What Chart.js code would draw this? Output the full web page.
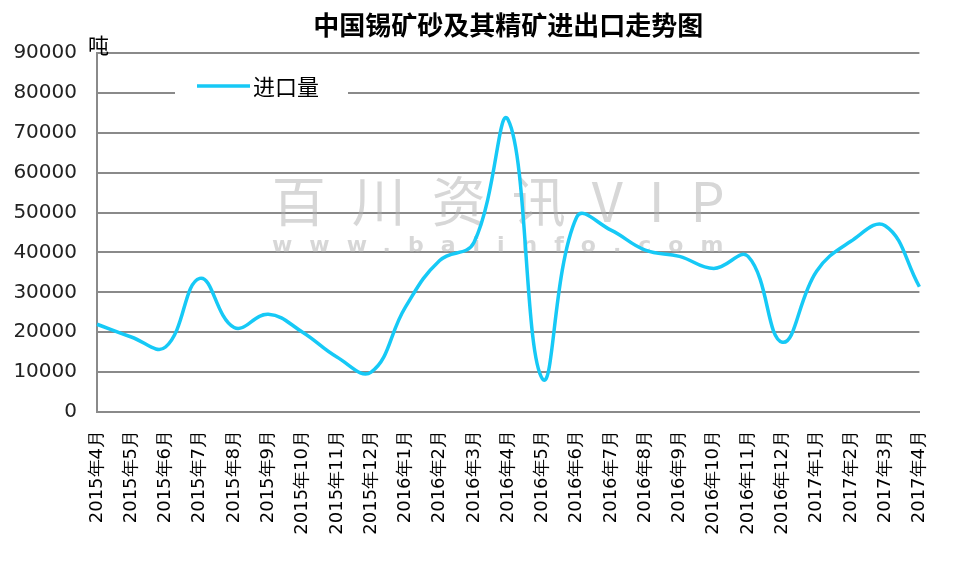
<!DOCTYPE html>
<html>
<head>
<meta charset="utf-8">
<script src="https://cdn.jsdelivr.net/npm/chart.js@4/dist/chart.umd.min.js"></script>
<style>
  html, body { margin: 0; padding: 0; background: #fff; }
  #wrap { width: 959px; height: 562px; }
</style>
</head>
<body>
<div id="wrap"><canvas id="chart" width="959" height="562"></canvas></div>
<script>
const months = [
  '2015年4月', '2015年5月', '2015年6月', '2015年7月', '2015年8月', '2015年9月',
  '2015年10月', '2015年11月', '2015年12月', '2016年1月', '2016年2月', '2016年3月',
  '2016年4月', '2016年5月', '2016年6月', '2016年7月', '2016年8月', '2016年9月',
  '2016年10月', '2016年11月', '2016年12月', '2017年1月', '2017年2月', '2017年3月',
  '2017年4月'
];
const importVolume = [
  22000, 18800, 16300, 33500, 21200, 24500,
  20000, 13800, 10000, 26300, 38000, 42500,
  73200, 8300, 48900, 45600, 40600, 39000,
  36000, 39000, 17500, 35300, 42800, 46700,
  31400
];
const seriesName = '进口量';
const chartTitle = '中国锡矿砂及其精矿进出口走势图';
const unitLabel = '吨';
const yMin = 0, yMax = 90000, yStep = 10000;

const cjk = '"Noto Sans CJK SC", "DejaVu Sans", sans-serif';

// 水印、单位、图例（图例画在绘图区内）
const extras = {
  id: 'extras',
  beforeDatasetsDraw(chart) {
    const { ctx, chartArea } = chart;
    const cx = (chartArea.left + chartArea.right) / 2 - 10;
    ctx.save();
    ctx.fillStyle = 'rgba(175,175,175,0.5)';
    ctx.textAlign = 'center';
    ctx.textBaseline = 'middle';
    ctx.font = '54px ' + cjk;
    if ('letterSpacing' in ctx) ctx.letterSpacing = '26px';
    ctx.fillText('百川资讯VIP', cx + 13, chartArea.top + 148);
    ctx.font = 'bold 22px "DejaVu Sans", sans-serif';
    if ('letterSpacing' in ctx) ctx.letterSpacing = '17px';
    ctx.fillText('www.baiinfo.com', cx + 8, chartArea.top + 193);
    ctx.restore();
  },
  afterDraw(chart) {
    const { ctx, chartArea } = chart;
    const ds = chart.data.datasets[0];
    ctx.save();
    // 单位
    ctx.fillStyle = '#000';
    ctx.font = '21px ' + cjk;
    ctx.textAlign = 'left';
    ctx.textBaseline = 'bottom';
    ctx.fillText(unitLabel, chartArea.left - 9, chartArea.top + 3);
    // 图例
    const lx = chartArea.left + 78;
    const ly = chartArea.top + 33;
    ctx.fillStyle = '#fff';
    ctx.fillRect(lx, ly - 16, 173, 30);
    ctx.strokeStyle = ds.borderColor;
    ctx.lineWidth = 3.5;
    ctx.beginPath();
    ctx.moveTo(lx + 22, ly);
    ctx.lineTo(lx + 75, ly);
    ctx.stroke();
    ctx.fillStyle = '#000';
    ctx.font = '22px ' + cjk;
    ctx.textBaseline = 'middle';
    ctx.fillText(ds.label, lx + 78, ly + 1);
    ctx.restore();
  }
};

new Chart(document.getElementById('chart'), {
  type: 'line',
  data: {
    labels: months,
    datasets: [{
      label: seriesName,
      data: importVolume,
      borderColor: '#16c9f6',
      borderWidth: 3.5,
      pointRadius: 0,
      tension: 0.42,
      fill: false
    }]
  },
  options: {
    responsive: false,
    animation: false,
    layout: { padding: { left: 0, right: 9, top: 0, bottom: 0 } },
    plugins: {
      legend: { display: false },
      tooltip: { enabled: false },
      title: {
        display: true,
        text: chartTitle,
        fullSize: false,
        color: '#000',
        font: { family: cjk, size: 26, weight: 'bold' },
        padding: { top: 10, bottom: 11.8 }
      }
    },
    scales: {
      x: {
        offset: false,
        grid: { display: false, drawTicks: false },
        border: { display: true, color: '#8a8a8a', width: 2 },
        ticks: {
          autoSkip: false,
          minRotation: 90,
          maxRotation: 90,
          padding: 18,
          color: '#000',
          font: { family: '"DejaVu Sans", sans-serif', size: 18 }
        },
        afterFit(scale) { scale.height = 150; }
      },
      y: {
        min: yMin,
        max: yMax,
        grid: { color: '#8a8a8a', lineWidth: 2, drawTicks: false },
        border: { display: true, color: '#8a8a8a', width: 2 },
        ticks: {
          stepSize: yStep,
          padding: 20,
          color: '#222',
          font: { family: '"DejaVu Sans", sans-serif', size: 20 },
          callback: v => String(v)
        },
        afterFit(scale) { scale.width = 97; }
      }
    }
  },
  plugins: [extras]
});
</script>
</body>
</html>
